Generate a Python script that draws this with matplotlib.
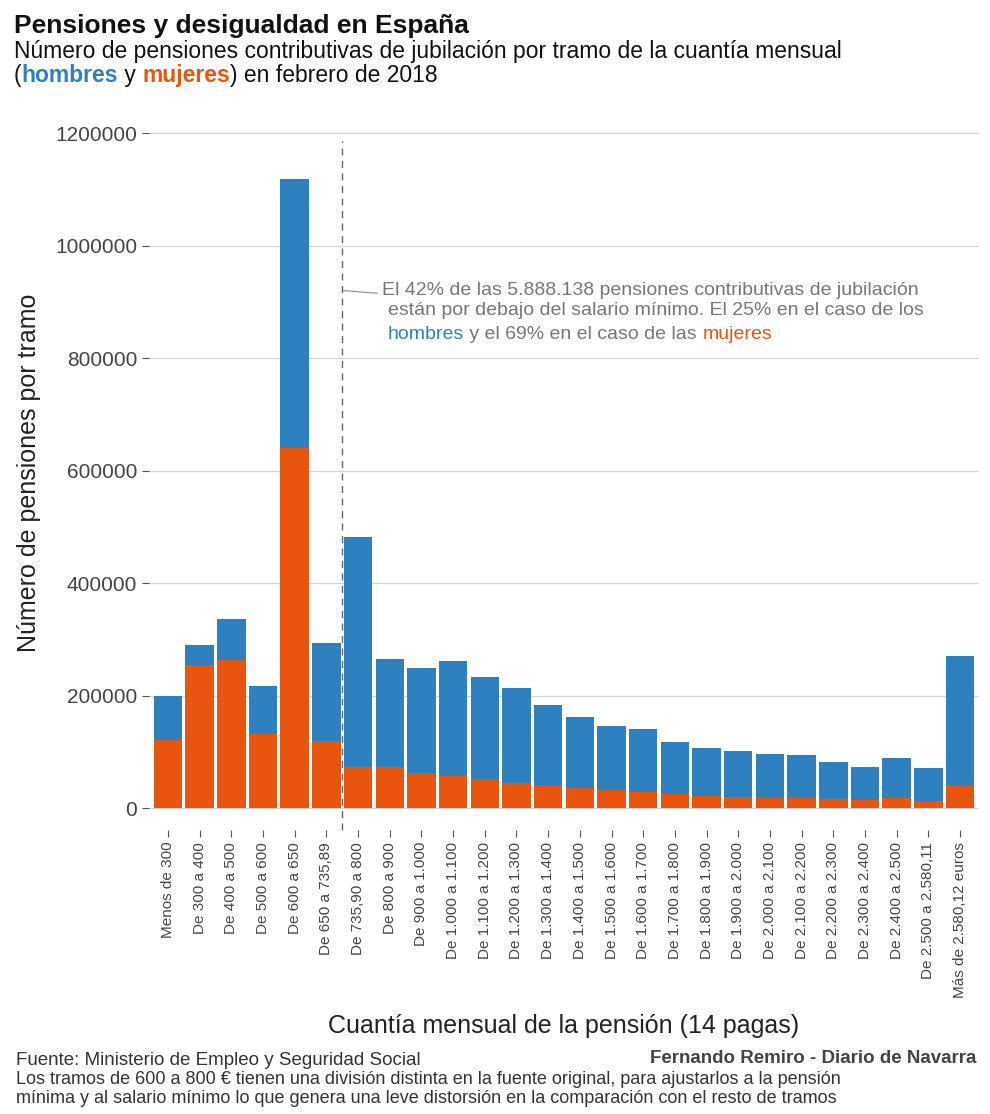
import matplotlib
matplotlib.use("Agg")
import matplotlib.pyplot as plt
import numpy as np

categories = ["Menos de 300","De 300 a 400","De 400 a 500","De 500 a 600","De 600 a 650",
 "De 650 a 735,89","De 735,90 a 800","De 800 a 900","De 900 a 1.000","De 1.000 a 1.100",
 "De 1.100 a 1.200","De 1.200 a 1.300","De 1.300 a 1.400","De 1.400 a 1.500","De 1.500 a 1.600",
 "De 1.600 a 1.700","De 1.700 a 1.800","De 1.800 a 1.900","De 1.900 a 2.000","De 2.000 a 2.100",
 "De 2.100 a 2.200","De 2.200 a 2.300","De 2.300 a 2.400","De 2.400 a 2.500","De 2.500 a 2.580,11",
 "Más de 2.580,12 euros"]
total = [199000,290000,336000,217000,1118000,293000,482000,265000,249000,261000,233000,213000,
 183000,162000,146000,140000,117000,107000,101000,96000,94000,82000,73000,89000,71000,270000]
mujeres = [121000,254000,263000,132000,640000,119000,73000,73000,62000,57000,52000,44000,
 41000,36000,32000,28000,25000,21000,20000,18000,18000,16000,15000,18000,13000,39000]
hombres = [t-m for t, m in zip(total, mujeres)]
yticks = [0,200000,400000,600000,800000,1000000,1200000]

BLUE = "#2E81BE"; ORANGE = "#E8550E"
plt.rcParams['font.family'] = ['Liberation Sans', 'DejaVu Sans']
W, H = 990, 1114
fig = plt.figure(figsize=(9.9, 11.14), dpi=100)
ax = fig.add_axes([149/W, 1-830/H, 830/W, 715/H])
x = np.arange(len(categories))
ax.bar(x, mujeres, width=0.9, color=ORANGE, zorder=3)
ax.bar(x, hombres, bottom=mujeres, width=0.9, color=BLUE, zorder=3)
ax.set_xlim(-0.6, 25.6)
ax.set_ylim(-39111, 1232000)
ax.set_yticks(yticks)
ax.set_yticklabels([str(v) for v in yticks], fontsize=15, color="#444")
ax.set_xticks(x)
ax.set_xticklabels(categories, rotation=90, fontsize=11, color="#444")
ax.tick_params(axis='y', length=5, color="#555")
ax.tick_params(axis='x', length=5, color="#555")
ax.grid(axis='y', color="#d5d5d5", lw=0.9, zorder=0)
for s in ax.spines.values():
    s.set_visible(False)
ax.axvline(5.5, ymax=(1185000+39111)/(1232000+39111), color="#666", ls=(0, (5, 4)), lw=1, zorder=4)
ax.set_ylabel("Número de pensiones por tramo", fontsize=18, color="#222", labelpad=10)
ax.set_xlabel("Cuantía mensual de la pensión (14 pagas)", fontsize=18, color="#222", labelpad=12)

ax.plot([5.55, 6.6], [920000, 915000], color="#888", lw=0.8, zorder=4)
ax.text(6.75, 920000, "El 42% de las 5.888.138 pensiones contributivas de jubilación", fontsize=14, color="#777", va='center')
ax.text(6.95, 885000, "están por debajo del salario mínimo. El 25% en el caso de los", fontsize=14, color="#777", va='center')

fig.canvas.draw()
r = fig.canvas.get_renderer()

def seq(xpx, ypx, parts, fontsize, weight="normal", coords="fig"):
    xx = xpx
    for txt, col, wt in parts:
        t = fig.text(xx/W, 1-ypx/H, txt, fontsize=fontsize, color=col, weight=wt, va='baseline')
        bb = t.get_window_extent(renderer=r)
        xx += bb.width

seq(388, 339, [("hombres", BLUE, "normal"), (" y el 69% en el caso de las ", "#777", "normal"), ("mujeres", ORANGE, "normal")], 14)

fig.text(14/W, 1-33/H, "Pensiones y desigualdad en España", fontsize=19, weight="bold", color="#111")
fig.text(14/W, 1-58/H, "Número de pensiones contributivas de jubilación por tramo de la cuantía mensual", fontsize=16.5, color="#111")
seq(14, 82, [("(", "#111", "normal"), ("hombres", BLUE, "bold"), (" y ", "#111", "normal"), ("mujeres", ORANGE, "bold"), (") en febrero de 2018", "#111", "normal")], 16.5)

fig.text(16/W, 1-1065/H, "Fuente: Ministerio de Empleo y Seguridad Social", fontsize=13.5, color="#333")
fig.text(976/W, 1-1063/H, "Fernando Remiro - Diario de Navarra", fontsize=13.5, weight="bold", color="#444", ha='right')
fig.text(16/W, 1-1084/H, "Los tramos de 600 a 800 € tienen una división distinta en la fuente original, para ajustarlos a la pensión", fontsize=13, color="#333")
fig.text(16/W, 1-1103/H, "mínima y al salario mínimo lo que genera una leve distorsión en la comparación con el resto de tramos", fontsize=13, color="#333")

fig.savefig("out.png", dpi=100, facecolor="white")
